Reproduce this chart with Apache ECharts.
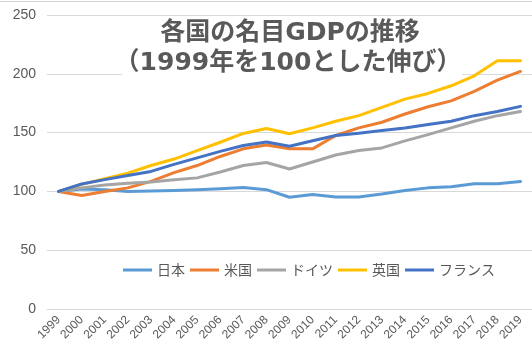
<!DOCTYPE html>
<html>
<head>
<meta charset="utf-8">
<script src="https://cdn.jsdelivr.net/npm/echarts@6/dist/echarts.min.js"></script>
<style>
html,body{margin:0;padding:0;background:#fff;}
#chart{width:532px;height:356px;}
</style>
</head>
<body>
<div id="chart"></div>
<script>
var years = ['1999','2000','2001','2002','2003','2004','2005','2006','2007','2008','2009','2010','2011','2012','2013','2014','2015','2016','2017','2018','2019'];
var japan   = [100, 102, 101.5, 100, 100.3, 100.8, 101.4, 102.2, 103.4, 101.5, 95, 97.3, 95.3, 95.3, 97.8, 100.8, 103, 104, 106.5, 106.5, 108.5];
var usa     = [100, 96.6, 100, 103, 108.5, 116, 122, 129.7, 136.2, 139.5, 136.2, 136.2, 147.5, 154, 158.8, 165.8, 172, 177, 185, 194.6, 202];
var germany = [100, 103, 105.5, 107, 108, 110, 111.5, 116.5, 122, 124.6, 119, 125, 131, 134.7, 137, 143, 148.3, 154, 159.6, 164.4, 168];
var uk      = [100, 106, 110.8, 115.5, 122, 127.5, 134.7, 141.8, 149.3, 153.5, 149, 154, 159.6, 164.4, 171.5, 178.5, 183.3, 189.8, 198.3, 211, 211];
var france  = [100, 106.3, 110, 113.5, 117, 123, 128.5, 134, 139, 142, 138.4, 143, 147.5, 149.4, 151.7, 154, 156.8, 159.6, 164.4, 168, 172.3];
var seriesNames = ['日本', '米国', 'ドイツ', '英国', 'フランス'];
var titleLines = ['各国の名目GDPの推移', '（1999年を100とした伸び）'];

var colors = ['#5B9BD5', '#ED7D31', '#A5A5A5', '#FFC000', '#4472C4'];
var values = [japan, usa, germany, uk, france];

var chart = echarts.init(document.getElementById('chart'));
var txt = '#595959';
chart.setOption({
  animation: false,
  backgroundColor: '#ffffff',
  color: colors,
  grid: { left: 47, right: 0, top: 15, bottom: 47, containLabel: false },
  xAxis: {
    type: 'category',
    data: years,
    boundaryGap: true,
    axisLine: { show: true, lineStyle: { color: '#d9d9d9', width: 1 } },
    axisTick: { show: false },
    axisLabel: { interval: 0, rotate: 45, color: txt, fontSize: 12, margin: 9, fontFamily: 'Liberation Sans, sans-serif' }
  },
  yAxis: {
    type: 'value',
    min: 0, max: 250, interval: 50,
    axisLine: { show: false },
    axisTick: { show: false },
    splitLine: { lineStyle: { color: '#d9d9d9', width: 1 } },
    axisLabel: { color: txt, fontSize: 14, margin: 11, fontFamily: 'Liberation Sans, sans-serif' }
  },
  legend: {
    left: 118, top: 258,
    icon: 'rect',
    itemWidth: 29, itemHeight: 3, itemGap: 5,
    textStyle: { color: txt, fontSize: 14, fontFamily: 'Noto Sans CJK JP, sans-serif' },
    data: seriesNames
  },
  graphic: [
    { type: 'line', silent: true, z: 1, shape: { x1: 0, y1: 1.5, x2: 532, y2: 1.5 }, style: { stroke: '#d4d4d4', lineWidth: 1 } },
    { type: 'rect', silent: true, z: 1, shape: { x: 122, y: 17, width: 340, height: 59 }, style: { fill: '#ffffff' } },
    { type: 'text', silent: true, z: 3, x: 290, y: 33,
      style: { text: titleLines[0], align: 'center', verticalAlign: 'middle', fill: txt, font: 'bold 25px "DejaVu Sans", "Noto Sans CJK JP", sans-serif' } },
    { type: 'text', silent: true, z: 3, x: 288, y: 63,
      style: { text: titleLines[1], align: 'center', verticalAlign: 'middle', fill: txt, font: 'bold 25px "DejaVu Sans", "Noto Sans CJK JP", sans-serif' } }
  ],
  series: seriesNames.map(function (n, i) {
    return {
      name: n, type: 'line', data: values[i],
      showSymbol: false, symbol: 'none', z: 2,
      lineStyle: { width: 3, color: colors[i], cap: 'round', join: 'round' },
      itemStyle: { color: colors[i] }
    };
  })
});
</script>
</body>
</html>
